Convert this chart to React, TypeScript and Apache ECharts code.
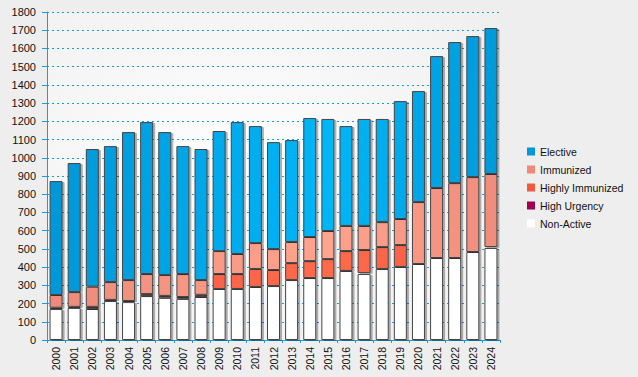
import React, { useEffect, useRef } from "react";
import * as echarts from "echarts";

const years = ["2000","2001","2002","2003","2004","2005","2006","2007","2008","2009","2010","2011","2012","2013","2014","2015","2016","2017","2018","2019","2020","2021","2022","2023","2024"];
const nonActive = [170,176,170,214,208,241,232,226,236,280,280,291,296,329,340,340,379,362,390,401,417,450,450,483,505];
const highUrgency = [7,6,12,6,6,0,0,0,0,0,0,0,0,0,0,0,0,5,0,0,0,0,0,0,5];
const highlyImmunized = [0,0,0,0,0,11,10,10,12,82,82,99,88,93,93,104,109,127,120,120,0,0,0,0,0];
const immunized = [70,81,111,98,115,110,115,126,81,126,110,142,115,116,132,154,138,132,137,143,340,384,411,411,401];
const elective = [625,708,755,746,812,834,784,702,719,659,724,642,587,559,653,615,548,587,566,647,609,724,774,774,801];
const yTicks = ["0","100","200","300","400","500","600","700","800","900","1000","1100","1200","1300","1400","1500","1600","1700","1800"];

const FONT = '"Liberation Sans", Arial, sans-serif';
const AXIS_BLUE = "#1a9bdb";

function hexToRgb(h: string) {
  const n = parseInt(h.slice(1), 16);
  return [(n >> 16) & 255, (n >> 8) & 255, n & 255];
}
function mix(a: string, b: string, w: number) {
  const A = hexToRgb(a), B = hexToRgb(b);
  const c = A.map((v, i) => Math.round(v + (B[i] - v) * w));
  return "rgb(" + c.join(",") + ")";
}
function lightW(i: number) {
  const d = i - 15;
  const w = 1 - Math.abs(d) / (d < 0 ? 15 : 10);
  return Math.max(0, Math.min(1, w));
}

export default function App() {
  const ref = useRef<HTMLDivElement>(null);
  useEffect(() => {
    document.body.style.margin = "0";
    const chart = echarts.init(ref.current!, null, { renderer: "svg" });
    const mk = (name: string, vals: number[], dark: string, light: string, legendColor: string) => ({
      name,
      type: "bar",
      stack: "total",
      barWidth: 13,
      color: legendColor,
      data: vals.map((v, i) => (v === 0 ? null : {
        value: v,
        itemStyle: { color: mix(dark, light, lightW(i)) },
      })),
      itemStyle: {
        borderColor: "#454545",
        borderWidth: 1,
        shadowColor: "rgba(0,0,0,0.3)",
        shadowOffsetX: 2,
        shadowOffsetY: 1,
        shadowBlur: 1,
      },
    });
    chart.setOption({
      animation: false,
      backgroundColor: "#eeeeee",
      grid: {
        left: 47, right: 138, top: 12, bottom: 37,
        show: true,
        borderWidth: 0,
        backgroundColor: {
          type: "radial", x: 0.4, y: 0.45, r: 0.85,
          colorStops: [{ offset: 0, color: "#fefefe" }, { offset: 1, color: "#ededed" }],
        },
      },
      legend: {
        orient: "vertical",
        left: 522,
        top: 140,
        itemWidth: 8,
        itemHeight: 8,
        itemGap: 5,
        icon: "rect",
        data: ["Elective", "Immunized", "Highly Immunized", "High Urgency", "Non-Active"],
        textStyle: { fontFamily: FONT, fontSize: 10.5, color: "#111", lineHeight: 13 },
        itemStyle: { borderWidth: 0, shadowBlur: 0, shadowOffsetX: 0, shadowOffsetY: 0, shadowColor: "transparent" },
      },
      xAxis: {
        type: "category",
        data: years,
        axisLine: { lineStyle: { color: AXIS_BLUE, width: 1 } },
        axisTick: { show: true, length: 3, lineStyle: { color: AXIS_BLUE } },
        axisLabel: { rotate: 90, fontFamily: FONT, fontSize: 10.5, color: "#111", margin: 7 },
      },
      yAxis: {
        type: "value",
        min: 0,
        max: 1800,
        interval: 100,
        axisLine: { show: true, lineStyle: { color: AXIS_BLUE, width: 1 } },
        axisTick: { show: true, length: 5, lineStyle: { color: AXIS_BLUE } },
        axisLabel: {
          fontFamily: FONT, fontSize: 11, color: "#111", margin: 11,
          formatter: (v: number) => yTicks[Math.round(v / 100)] ?? String(v),
        },
        splitLine: { show: true, lineStyle: { color: AXIS_BLUE, type: [2, 3], width: 1 } },
      },
      series: [
        mk("Non-Active", nonActive, "#ffffff", "#ffffff", "#ffffff"),
        mk("High Urgency", highUrgency, "#a0004f", "#a0004f", "#a0004f"),
        mk("Highly Immunized", highlyImmunized, "#f25c43", "#ff6a4c", "#f05a40"),
        mk("Immunized", immunized, "#ef8a7a", "#ffa48e", "#f08a78"),
        mk("Elective", elective, "#0098d8", "#00b6f7", "#0099d8"),
      ],
    });
    return () => chart.dispose();
  }, []);
  return <div ref={ref} style={{ position: "absolute", left: 0, top: 0, width: 638, height: 377 }} />;
}
